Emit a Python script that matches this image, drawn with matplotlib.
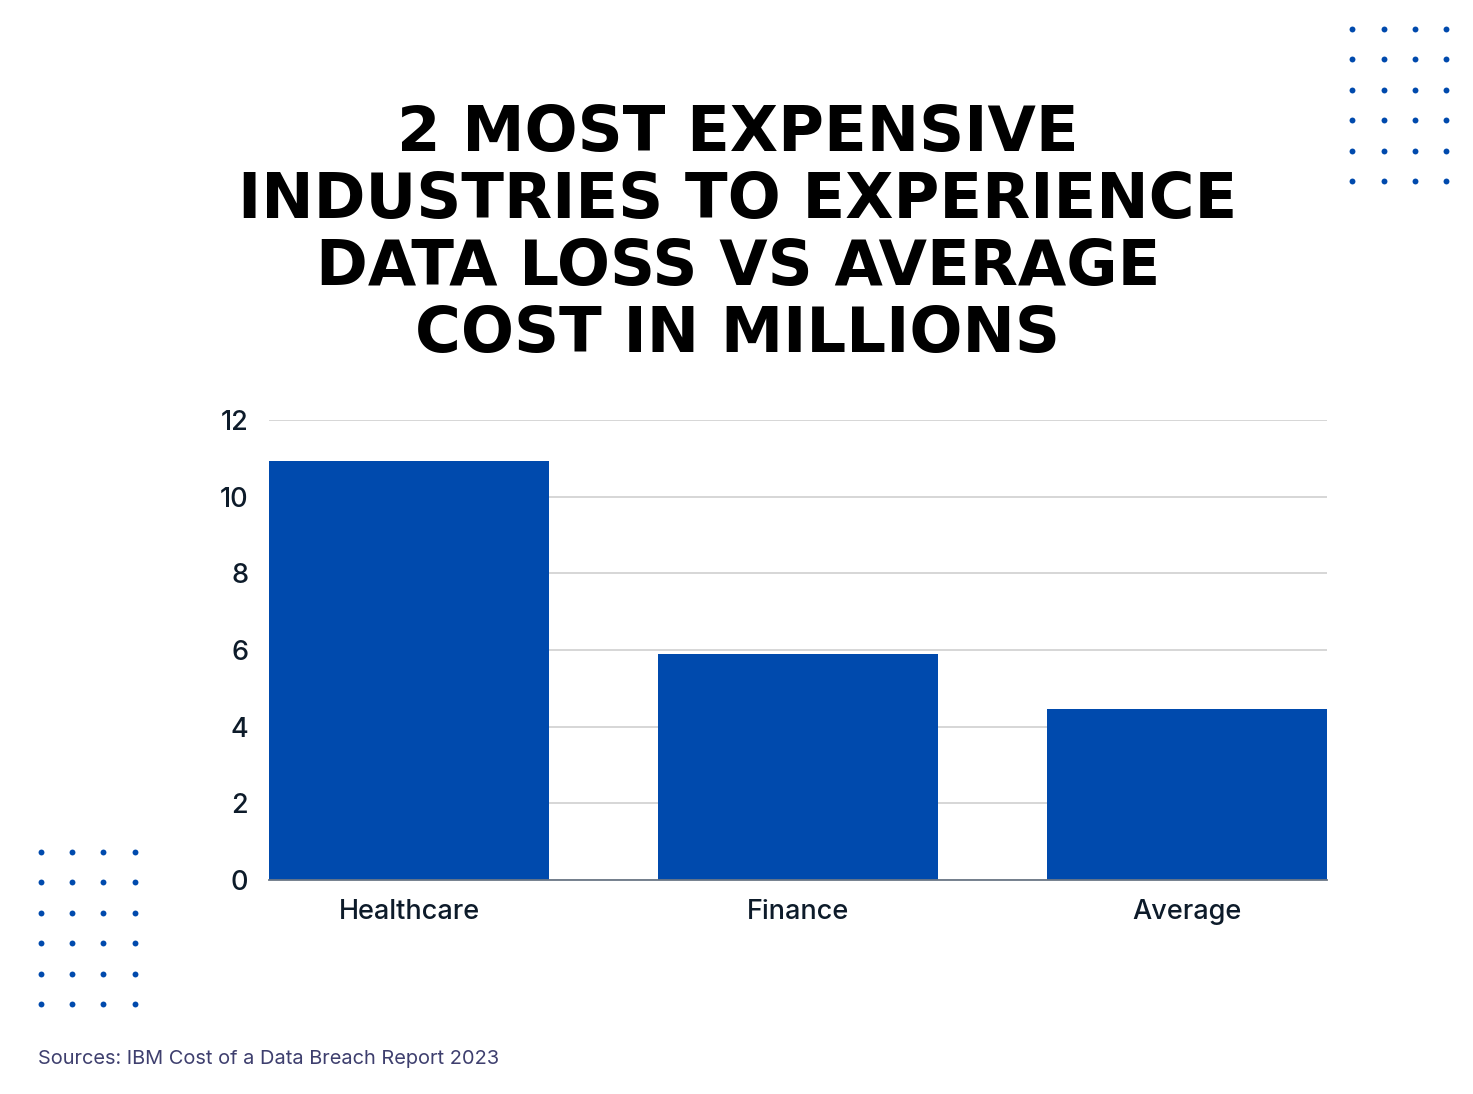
import matplotlib
matplotlib.use("Agg")
import matplotlib.pyplot as plt
import numpy as np

# data (IBM Cost of a Data Breach 2023, millions USD)
categories = ["Healthcare", "Finance", "Average"]
costs = [10.93, 5.90, 4.45]
yticks = [0, 2, 4, 6, 8, 10, 12]

title_lines = ["2 MOST EXPENSIVE", "INDUSTRIES TO EXPERIENCE",
               "DATA LOSS VS AVERAGE", "COST IN MILLIONS"]
source = "Sources: IBM Cost of a Data Breach Report 2023"

blue = "#004AAD"
dark = "#0d1b2a"

fig = plt.figure(figsize=(14.73, 10.94), dpi=100)
W, H = 1473, 1094

# title, one line at a time
for i, line in enumerate(title_lines):
    fig.text(738 / W, 1 - (134 + i * 67) / H, line, ha="center", va="center",
             fontsize=45, fontweight="bold", family="DejaVu Sans", color="black")

# bar chart
ax = fig.add_axes([269 / W, 1 - 880 / H, (1327 - 269) / W, 460 / H])
x = np.arange(len(categories))
ax.bar(x, costs, width=0.72, color=blue, zorder=2)
ax.set_xlim(-0.36, len(categories) - 1 + 0.36)
ax.set_ylim(0, 12)
ax.set_yticks(yticks)
ax.set_xticks(x)
ax.set_xticklabels(categories)
ax.grid(axis="y", color="#d3d3d3", linewidth=1.3, zorder=0)
for s in ["top", "right", "left"]:
    ax.spines[s].set_visible(False)
ax.spines["bottom"].set_color("#6b7786")
ax.spines["bottom"].set_linewidth(1.3)
ax.spines["bottom"].set_zorder(3)
ax.tick_params(axis="both", length=0, labelsize=19.5, colors=dark)
ax.tick_params(axis="y", pad=15)
ax.tick_params(axis="x", pad=14)
for lab in ax.get_xticklabels() + ax.get_yticklabels():
    lab.set_family("Inter")
    lab.set_fontweight("medium")

# decorative dot grids
dots = fig.add_axes([0, 0, 1, 1])
dots.set_xlim(0, W)
dots.set_ylim(H, 0)
dots.axis("off")
tr_x = [1352, 1384, 1415, 1446]
tr_y = [29, 59, 90, 120, 151, 181]
bl_x = [41, 72, 103, 135]
bl_y = [852, 882, 913, 943, 974, 1004]
gx, gy = np.meshgrid(tr_x, tr_y)
dots.scatter(gx.ravel(), gy.ravel(), s=18, color=blue, linewidths=0)
gx, gy = np.meshgrid(bl_x, bl_y)
dots.scatter(gx.ravel(), gy.ravel(), s=18, color=blue, linewidths=0)

fig.text(38 / W, 1 - 1059 / H, source, ha="left", va="center",
         fontsize=14.4, family="Inter", color="#3e3f6e")

fig.savefig("out.png", dpi=100, facecolor="white")
